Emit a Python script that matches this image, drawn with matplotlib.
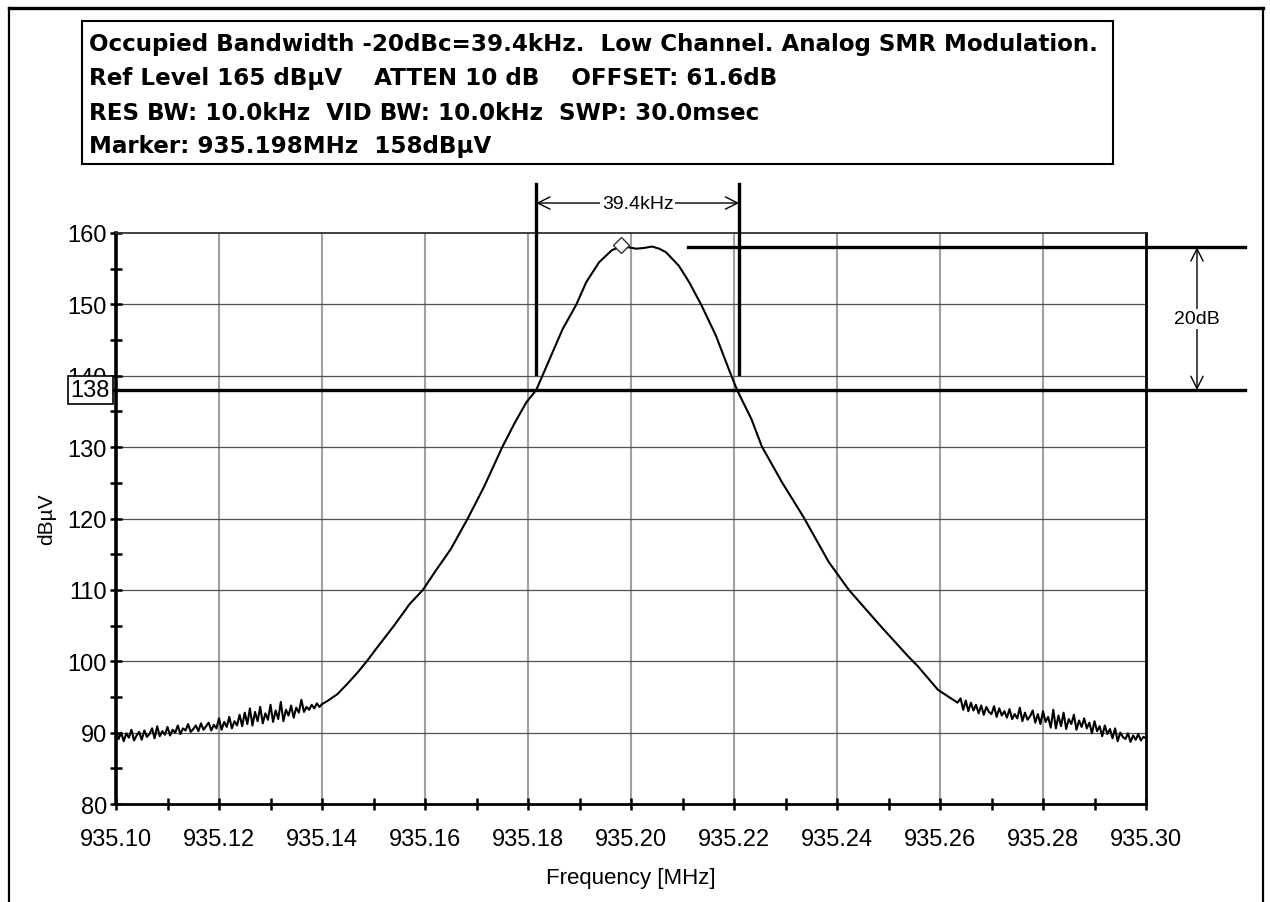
import numpy as np
import matplotlib
matplotlib.use('Agg')
import matplotlib.pyplot as plt
from matplotlib.ticker import MultipleLocator, FormatStrFormatter
import matplotlib.transforms as mtransforms
from matplotlib.patches import Rectangle
from matplotlib.lines import Line2D

plt.rcParams['font.family'] = ['Liberation Sans', 'DejaVu Sans']

# ---------------- data ----------------
noise_step = 0.0005
noise_left_start = 935.100
noise_left_levels = [
    90.2, 89.1, 90.0, 88.8, 89.9, 89.3, 90.4, 88.9, 89.6, 90.1,
    89.0, 90.3, 89.4, 89.8, 90.6, 89.2, 90.9, 89.5, 90.2, 89.7,
    90.8, 89.6, 90.4, 90.0, 91.0, 89.8, 90.6, 90.3, 91.2, 90.1,
    90.5, 91.0, 90.2, 91.3, 90.4, 90.9, 91.4, 90.3, 91.1, 90.6,
    92.0, 90.4, 91.5, 90.8, 92.2, 90.6, 91.6, 91.0, 92.5, 90.9,
    92.8, 91.2, 93.4, 91.0, 92.9, 91.6, 93.6, 91.3, 92.7, 91.8,
    93.9, 91.5, 93.1, 91.9, 94.3, 91.6, 93.2, 92.4, 93.8, 92.1,
    93.5, 92.8, 94.6, 92.9, 93.6, 93.2, 93.9, 93.4, 94.1, 93.6,
    94.0,
]

peak_freqs = [
    935.1410, 935.1430, 935.1450, 935.1470, 935.1487, 935.1510, 935.1540,
    935.1570, 935.1596, 935.1620, 935.1650, 935.1683, 935.1715, 935.1750,
    935.1775, 935.1797, 935.1816, 935.1828, 935.1848, 935.1867, 935.1894,
    935.1913, 935.1938, 935.1963, 935.1980, 935.1995, 935.2010, 935.2025,
    935.2041, 935.2055, 935.2068, 935.2093, 935.2113, 935.2136, 935.2165,
    935.2190, 935.2206, 935.2234, 935.2254, 935.2293, 935.2335, 935.2384,
    935.2423, 935.2485, 935.2538, 935.2557, 935.2596, 935.2634,
]
peak_levels = [
    94.4, 95.4, 96.9, 98.5, 100.0, 102.2, 105.0,
    108.0, 110.0, 112.6, 115.7, 120.0, 124.5, 130.0,
    133.5, 136.3, 138.0, 140.0, 143.3, 146.5, 150.0,
    153.1, 155.9, 157.6, 158.1, 158.0, 157.8, 157.9,
    158.1, 157.8, 157.3, 155.4, 153.1, 150.0, 145.6,
    140.9, 138.0, 133.9, 130.1, 125.1, 120.2, 113.9,
    110.0, 104.9, 100.7, 99.3, 96.0, 94.2,
]

noise_right_start = 935.264
noise_right_levels = [
    94.8, 93.2, 94.5, 93.0, 94.2, 93.1, 93.9, 92.7,
    93.8, 92.5, 93.6, 92.9, 92.6, 93.7, 92.2, 93.4, 92.4, 93.0,
    92.1, 93.3, 91.9, 92.6, 92.0, 93.5, 91.6, 92.8, 91.8, 92.3,
    93.1, 91.4, 92.6, 91.2, 93.0, 91.5, 92.2, 90.7, 93.2, 90.6,
    92.4, 90.9, 92.8, 90.5, 91.9, 91.2, 92.5, 90.4, 91.7, 90.8,
    92.0, 90.6, 91.4, 89.9, 91.6, 90.2, 90.9, 89.5, 91.0, 89.8,
    90.5, 89.2, 90.6, 88.8, 90.0, 89.4, 89.1, 89.9, 88.7, 89.6,
    89.0, 89.8, 88.9, 89.4, 89.2,
]

header_lines = [
    "Occupied Bandwidth -20dBc=39.4kHz.  Low Channel. Analog SMR Modulation.",
    "Ref Level 165 dB\u00b5V    ATTEN 10 dB    OFFSET: 61.6dB",
    "RES BW: 10.0kHz  VID BW: 10.0kHz  SWP: 30.0msec",
    "Marker: 935.198MHz  158dB\u00b5V",
]

x_min, x_max = 935.10, 935.30
y_min, y_max = 80, 160
obw_low = 935.1816
obw_high = 935.2210
obw_label = "39.4kHz"
peak_ref = 158
minus20_level = 138
marker_freq = 935.198
marker_level = 158.3

# ---------------- build trace ----------------
f_left = noise_left_start + noise_step * np.arange(len(noise_left_levels))
f_right = noise_right_start + noise_step * np.arange(len(noise_right_levels))
freqs = np.concatenate([f_left, peak_freqs, f_right])
levels = np.concatenate([noise_left_levels, peak_levels, noise_right_levels])

W, H = 1270, 903
fig = plt.figure(figsize=(W / 100, H / 100), dpi=100)
fig.patch.set_facecolor('white')

def fx(px):
    return px / W

def fy(py):
    return 1 - py / H

ax = fig.add_axes([fx(116), fy(805), fx(1146) - fx(116), fy(234) - fy(805)])
ax.set_xlim(x_min, x_max)
ax.set_ylim(y_min, y_max)

# grid
ax.xaxis.set_major_locator(MultipleLocator(0.02))
ax.xaxis.set_minor_locator(MultipleLocator(0.01))
ax.yaxis.set_major_locator(MultipleLocator(10))
ax.yaxis.set_minor_locator(MultipleLocator(5))
ax.xaxis.set_major_formatter(FormatStrFormatter('%.2f'))
ax.yaxis.set_major_formatter(FormatStrFormatter('%d'))
for xv in np.arange(935.12, 935.295, 0.02):
    ax.axvline(xv, color='#a0a0a0', lw=1.5, zorder=1)
for yv in range(90, 160, 10):
    ax.axhline(yv, color='#505050', lw=0.9, zorder=1)

ax.tick_params(axis='both', which='both', direction='inout', width=1.8,
               color='black', labelsize=17)
ax.tick_params(axis='both', which='major', length=9)
ax.tick_params(axis='both', which='minor', length=9)
ax.tick_params(axis='x', pad=13)
ax.tick_params(axis='y', pad=2)

ax.spines['left'].set_linewidth(2.6)
ax.spines['bottom'].set_linewidth(2.0)
ax.spines['right'].set_linewidth(2.0)
ax.spines['top'].set_linewidth(1.3)
ax.spines['top'].set_color('#303030')

ax.set_xlabel('Frequency [MHz]', fontsize=16, labelpad=12)
ax.set_ylabel('dB\u00b5V', fontsize=15, labelpad=8)

# trace
ax.plot(freqs, levels, color='black', lw=1.5, zorder=3)
ax.plot([marker_freq], [marker_level], marker='D', markersize=8,
        markerfacecolor='white', markeredgecolor='#333333', mew=1.0, zorder=4)

# annotation lines
trans = mtransforms.blended_transform_factory(ax.transAxes, ax.transData)
ax.plot([-0.006, 1.096], [minus20_level, minus20_level], transform=trans,
        color='black', lw=2.4, clip_on=False, zorder=5)
ax.plot([935.2111, 935.3192], [peak_ref, peak_ref], color='black', lw=2.4,
        clip_on=False, zorder=5)
for fv in (obw_low, obw_high):
    ax.plot([fv, fv], [140.2, 166.9], color='black', lw=2.4, clip_on=False, zorder=5)

ax.annotate('', xy=(obw_low, 164.2), xytext=(obw_high, 164.2),
            arrowprops=dict(arrowstyle='<->', color='black', lw=1.0,
                            shrinkA=0, shrinkB=0, mutation_scale=22),
            annotation_clip=False)
ax.text((obw_low + obw_high) / 2, 164.2, obw_label, ha='center', va='center',
        fontsize=14, bbox=dict(facecolor='white', edgecolor='none', pad=1),
        clip_on=False, zorder=6)

x20 = 935.3099
ax.annotate('', xy=(x20, peak_ref), xytext=(x20, minus20_level),
            arrowprops=dict(arrowstyle='<->', color='black', lw=1.0,
                            shrinkA=0, shrinkB=0, mutation_scale=22),
            annotation_clip=False)
ax.text(x20, (peak_ref + minus20_level) / 2, '20dB', ha='center', va='center',
        fontsize=14, bbox=dict(facecolor='white', edgecolor='none', pad=1),
        clip_on=False, zorder=6)

# 138 box
ax.text(-0.006, minus20_level, '%d' % minus20_level, transform=trans,
        ha='right', va='center', fontsize=17,
        bbox=dict(facecolor='white', edgecolor='black', lw=1.2,
                  boxstyle='square,pad=0.12'), clip_on=False, zorder=7)

# header box
fig.add_artist(Rectangle((fx(82), fy(165)), fx(1113) - fx(82), fy(22) - fy(165),
                         transform=fig.transFigure, fill=False,
                         edgecolor='black', lw=1.5))
for i, line in enumerate(header_lines):
    fig.text(fx(89), fy(45 + 34 * i), line, ha='left', va='center',
             fontsize=16.6, fontweight='bold', family=['DejaVu Sans'])

# outer frame
fig.add_artist(Line2D([fx(9), fx(1263)], [fy(9), fy(9)], transform=fig.transFigure,
                      color='black', lw=2.4))
fig.add_artist(Line2D([fx(9), fx(9)], [fy(9), 0], transform=fig.transFigure,
                      color='black', lw=1.6))
fig.add_artist(Line2D([fx(1263), fx(1263)], [fy(9), 0], transform=fig.transFigure,
                      color='black', lw=1.6))

fig.savefig('out.png', dpi=100, facecolor='white')
